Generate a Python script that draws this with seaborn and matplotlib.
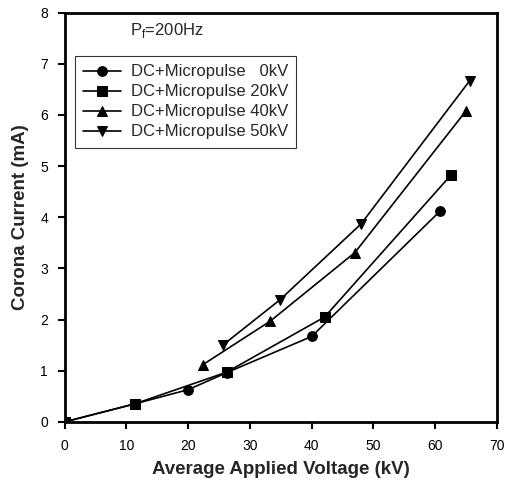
import numpy as np
import pandas as pd
import matplotlib
matplotlib.use('Agg')
import matplotlib.pyplot as plt
import seaborn as sns

# values
v_0kv = [0, 11.3, 20, 26.2, 40, 60.8]
i_0kv = [0, 0.35, 0.63, 0.96, 1.67, 4.12]
v_20kv = [0, 11.3, 26.2, 42.1, 62.6]
i_20kv = [0, 0.35, 0.97, 2.05, 4.83]
v_40kv = [22.4, 33.3, 47.0, 65.0]
i_40kv = [1.12, 1.97, 3.31, 6.08]
v_50kv = [25.6, 34.8, 48.0, 65.6]
i_50kv = [1.50, 2.38, 3.87, 6.67]

labels = ['DC+Micropulse   0kV', 'DC+Micropulse 20kV',
          'DC+Micropulse 40kV', 'DC+Micropulse 50kV']
markers = ['o', 's', '^', 'v']

sns.set_style('ticks')
plt.rcParams['font.family'] = ['Liberation Sans', 'DejaVu Sans']

fig = plt.figure(figsize=(5.06, 4.86), dpi=100)
ax = fig.add_axes([0.128, 0.132, 0.854, 0.842])

series = [(v_0kv, i_0kv), (v_20kv, i_20kv), (v_40kv, i_40kv), (v_50kv, i_50kv)]
for (v, i), lab, m in zip(series, labels, markers):
    df = pd.DataFrame({'V': v, 'I': i})
    sns.lineplot(data=df, x='V', y='I', ax=ax, color='black', marker=m,
                 markersize=7, markeredgecolor='black', linewidth=1.2,
                 label=lab, sort=False)

ax.set_xlim(0, 70)
ax.set_ylim(0, 8)
ax.set_xticks(np.arange(0, 71, 10))
ax.set_yticks(np.arange(0, 9, 1))
ax.tick_params(direction='out', length=5, width=1.5, labelsize=10,
               colors='black', pad=7)
for s in ax.spines.values():
    s.set_linewidth(2)
    s.set_color('black')

ax.set_xlabel('Average Applied Voltage (kV)', fontsize=13.5, fontweight='bold',
              labelpad=6)
ax.set_ylabel('Corona Current (mA)', fontsize=13.5, fontweight='bold',
              labelpad=8)

ax.text(10.5, 7.56, r'P$_\mathregular{f}$=200Hz', fontsize=12)

leg = ax.legend(loc='upper left', bbox_to_anchor=(0.023, 0.894), fontsize=12,
                frameon=True, fancybox=False, edgecolor='black',
                handlelength=2.3, handletextpad=0.55, borderpad=0.5,
                labelspacing=0.3, borderaxespad=0)
leg.get_frame().set_linewidth(0.8)

fig.savefig('out.png', dpi=100)
